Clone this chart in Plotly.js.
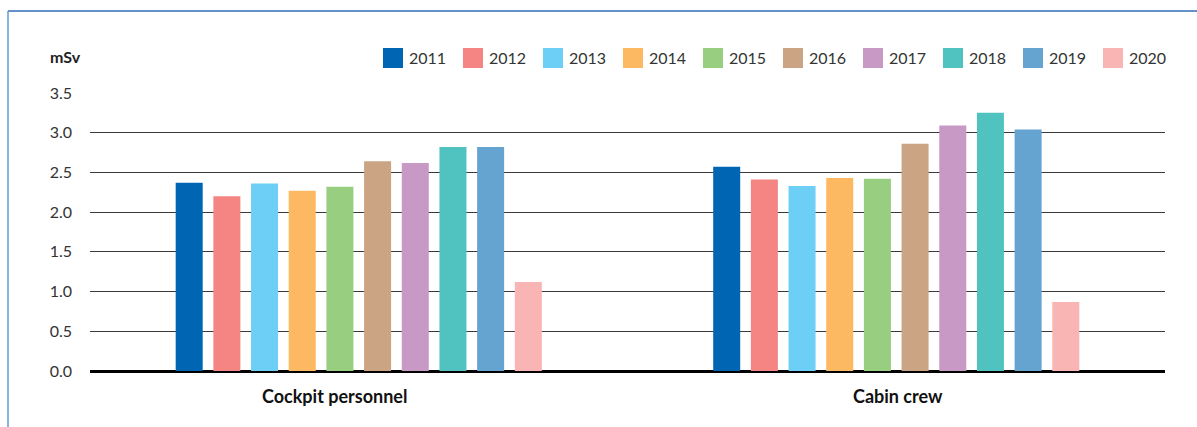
<!DOCTYPE html>
<html>
<head>
<meta charset="utf-8">
<script src="https://cdn.plot.ly/plotly-3.0.1.min.js"></script>
<style>html,body{margin:0;padding:0;background:#fff;}#chart{width:1197px;height:427px;}</style>
</head>
<body>
<div id="chart"></div>
<script>
var categories = ["Cockpit personnel", "Cabin crew"];
var years = ["2011","2012","2013","2014","2015","2016","2017","2018","2019","2020"];
var cockpit = [2.37, 2.20, 2.36, 2.27, 2.32, 2.64, 2.62, 2.82, 2.82, 1.12];
var cabin   = [2.57, 2.41, 2.33, 2.43, 2.42, 2.86, 3.09, 3.25, 3.04, 0.87];
var colors = ["#0066b3","#f48582","#6dcff6","#fdb962","#97ce80","#cba483","#c899c5","#50c3c0","#65a3d0","#f9b4b4"];
var yTicks = [0, 0.5, 1, 1.5, 2, 2.5, 3, 3.5];

var W = 1197, H = 427, L = 90, R = 32, T = 93, B = 56;
var pw = W - L - R, ph = H - T - B;
function px(x){ return (x - L) / pw; }
function py(y){ return (H - B - y) / ph; }
var font = "Lato, sans-serif";

var traces = years.map(function(yr, i){
  return {
    type: 'bar', name: yr, x: categories, y: [cockpit[i], cabin[i]],
    marker: {color: colors[i]}, showlegend: false, hoverinfo: 'x+y+name'
  };
});

var shapes = [];
var annotations = [];
// frame lines
shapes.push({type:'line', xref:'paper', yref:'paper', x0: px(8), x1: px(1197), y0: py(11), y1: py(11), line:{color:'#2f6fb3', width:1.5}});
shapes.push({type:'line', xref:'paper', yref:'paper', x0: px(8), x1: px(8), y0: py(11), y1: py(427), line:{color:'#5b9bd5', width:1.5}});
// legend
years.forEach(function(yr, i){
  var x0 = 383 + i * 80;
  shapes.push({type:'rect', xref:'paper', yref:'paper', x0: px(x0), x1: px(x0+20), y0: py(48), y1: py(68), fillcolor: colors[i], line:{width:0}});
  annotations.push({xref:'paper', yref:'paper', x: px(x0+24), y: py(58), xanchor:'left', yanchor:'middle', text: yr, showarrow:false, font:{family: font, size:16, color:'#333'}});
});
annotations.push({xref:'paper', yref:'paper', x: px(48), y: py(57), xanchor:'left', yanchor:'middle', text:'<b>mSv</b>', showarrow:false, font:{family: font, size:16, color:'#222'}});
// category labels
var labelShift = [-24, 2];
categories.forEach(function(c, i){
  annotations.push({xref:'x', yref:'paper', x: c, y: py(396), xshift: labelShift[i], xanchor:'center', yanchor:'middle', text:'<b>'+c+'</b>', showarrow:false, font:{family: font, size:18, color:'#111'}});
});

var layout = {
  width: W, height: H,
  margin: {l: L, r: R, t: T, b: B, pad: 0},
  paper_bgcolor: '#fff', plot_bgcolor: '#fff',
  barmode: 'group', bargap: 0.299, bargroupgap: 0.283,
  showlegend: false,
  xaxis: {
    type: 'category', showgrid: false, zeroline: false, showline: false,
    ticks: '', showticklabels: false
  },
  yaxis: {
    range: [0, 3.5], tickvals: yTicks, ticktext: yTicks.map(function(v){return v.toFixed(1);}),
    showgrid: true, gridcolor: '#3a3a3a', gridwidth: 1,
    zeroline: true, zerolinecolor: '#000', zerolinewidth: 3,
    showline: false, ticks: '', ticklabelstandoff: 17,
    tickfont: {family: font, size: 16, color: '#333'}
  },
  shapes: shapes,
  annotations: annotations
};

Plotly.newPlot('chart', traces, layout, {displayModeBar: false, staticPlot: true});
</script>
</body>
</html>
